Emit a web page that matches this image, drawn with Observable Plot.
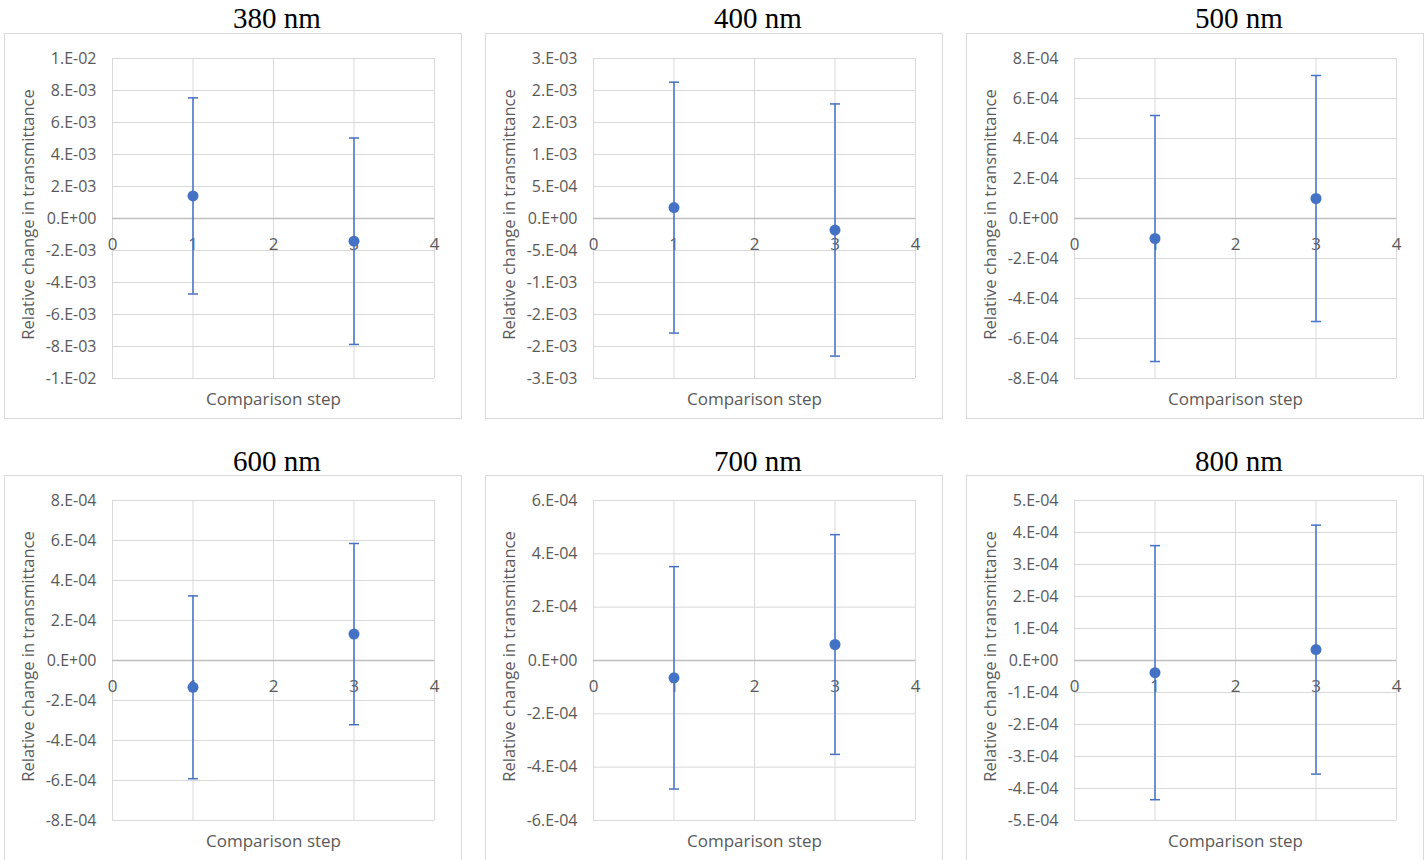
<!DOCTYPE html>
<html>
<head>
<meta charset="utf-8">
<script src="https://cdn.jsdelivr.net/npm/d3@7"></script>
<script src="https://cdn.jsdelivr.net/npm/@observablehq/plot@0.6"></script>
<style>
  html, body { margin: 0; padding: 0; background: #ffffff; }
  #sheet { position: relative; width: 1426px; height: 860px; overflow: hidden; }
  .title {
    position: absolute; width: 200px; text-align: center;
    font-family: "Liberation Serif", "Times New Roman", serif;
    font-size: 29px; line-height: 29px; color: #000000; white-space: nowrap;
  }
  .box {
    position: absolute; border: 1px solid #d9d9d9; background: #ffffff;
  }
  .box svg { display: block; }
</style>
</head>
<body>
<div id="sheet"></div>
<script>
// Wavelength of each panel
const panelTitles = ["380 nm", "400 nm", "500 nm", "600 nm", "700 nm", "800 nm"];

// Comparison steps on the x axis and its tick marks
const comparisonSteps = [1, 3];
const xTicks = [0, 1, 2, 3, 4];

// Mean relative change in transmittance at steps 1 and 3, per wavelength
const meanChange380 = [1.41e-3, -1.42e-3];
const meanChange400 = [1.7e-4, -1.8e-4];
const meanChange500 = [-1.0e-4, 1.0e-4];
const meanChange600 = [-1.34e-4, 1.32e-4];
const meanChange700 = [-6.5e-5, 6.0e-5];
const meanChange800 = [-3.8e-5, 3.4e-5];

// Error-bar half-widths (symmetric) at steps 1 and 3, per wavelength
const errorBar380 = [6.13e-3, 6.45e-3];
const errorBar400 = [1.96e-3, 1.97e-3];
const errorBar500 = [6.15e-4, 6.15e-4];
const errorBar600 = [4.57e-4, 4.53e-4];
const errorBar700 = [4.17e-4, 4.12e-4];
const errorBar800 = [3.97e-4, 3.89e-4];

// Y tick values and their printed labels, per wavelength
const yTicks380 = [1e-2, 8e-3, 6e-3, 4e-3, 2e-3, 0, -2e-3, -4e-3, -6e-3, -8e-3, -1e-2];
const yLabels380 = ["1.E-02", "8.E-03", "6.E-03", "4.E-03", "2.E-03", "0.E+00", "-2.E-03", "-4.E-03", "-6.E-03", "-8.E-03", "-1.E-02"];
const yTicks400 = [2.5e-3, 2e-3, 1.5e-3, 1e-3, 5e-4, 0, -5e-4, -1e-3, -1.5e-3, -2e-3, -2.5e-3];
const yLabels400 = ["3.E-03", "2.E-03", "2.E-03", "1.E-03", "5.E-04", "0.E+00", "-5.E-04", "-1.E-03", "-2.E-03", "-2.E-03", "-3.E-03"];
const yTicks500 = [8e-4, 6e-4, 4e-4, 2e-4, 0, -2e-4, -4e-4, -6e-4, -8e-4];
const yLabels500 = ["8.E-04", "6.E-04", "4.E-04", "2.E-04", "0.E+00", "-2.E-04", "-4.E-04", "-6.E-04", "-8.E-04"];
const yTicks600 = [8e-4, 6e-4, 4e-4, 2e-4, 0, -2e-4, -4e-4, -6e-4, -8e-4];
const yLabels600 = ["8.E-04", "6.E-04", "4.E-04", "2.E-04", "0.E+00", "-2.E-04", "-4.E-04", "-6.E-04", "-8.E-04"];
const yTicks700 = [6e-4, 4e-4, 2e-4, 0, -2e-4, -4e-4, -6e-4];
const yLabels700 = ["6.E-04", "4.E-04", "2.E-04", "0.E+00", "-2.E-04", "-4.E-04", "-6.E-04"];
const yTicks800 = [5e-4, 4e-4, 3e-4, 2e-4, 1e-4, 0, -1e-4, -2e-4, -3e-4, -4e-4, -5e-4];
const yLabels800 = ["5.E-04", "4.E-04", "3.E-04", "2.E-04", "1.E-04", "0.E+00", "-1.E-04", "-2.E-04", "-3.E-04", "-4.E-04", "-5.E-04"];

const xLabel = "Comparison step";
const yLabel = "Relative change in transmittance";

const meanChange = [meanChange380, meanChange400, meanChange500, meanChange600, meanChange700, meanChange800];
const errorBars = [errorBar380, errorBar400, errorBar500, errorBar600, errorBar700, errorBar800];
const yTicks = [yTicks380, yTicks400, yTicks500, yTicks600, yTicks700, yTicks800];
const yLabels = [yLabels380, yLabels400, yLabels500, yLabels600, yLabels700, yLabels800];

const BLUE = "#4472c4";
const GRID = "#d9d9d9";
const AXIS = "#bfbfbf";
const INK = "#595959";

// Flat error-bar cap drawn as a custom dot symbol
const capSymbol = {
  draw(context, size) {
    const w = Math.sqrt(size / Math.PI);
    context.moveTo(-w, 0);
    context.lineTo(w, 0);
  }
};

const colLeft = [5, 486, 967];
const rowTop = [34, 476];
const titleBaseline = [28, 471];
const W = 456, H = 384;
const mL = 107, mR = 27, mT = 24, mB = 40;

const sheet = document.getElementById("sheet");

panelTitles.forEach((title, i) => {
  const col = i % 3, row = Math.floor(i / 3);
  const rows = comparisonSteps.map((s, j) => ({step: s, mean: meanChange[i][j], err: errorBars[i][j]}));
  const caps = rows.flatMap(d => [{step: d.step, y: d.mean + d.err}, {step: d.step, y: d.mean - d.err}]);
  const ticks = yTicks[i];
  const labels = yLabels[i];
  const yMax = d3.max(ticks);
  const yMin = d3.min(ticks);

  const chart = Plot.plot({
    width: W,
    height: H,
    marginLeft: mL,
    marginRight: mR,
    marginTop: mT,
    marginBottom: mB,
    style: {fontFamily: "'Open Sans', 'Noto Sans', sans-serif", background: "#ffffff", overflow: "visible"},
    x: {domain: [0, 4], axis: null},
    y: {domain: [yMin, yMax], axis: null},
    marks: [
      // gridlines
      Plot.ruleX(xTicks, {x: d => d, stroke: GRID, strokeWidth: 1}),
      Plot.ruleY(ticks, {y: d => d, stroke: GRID, strokeWidth: 1}),
      // horizontal axis line at zero
      Plot.ruleY([0], {y: d => d, stroke: AXIS, strokeWidth: 1.3}),
      // y tick labels
      Plot.text(ticks, {
        y: d => d, text: (d, k) => labels[k], frameAnchor: "left",
        textAnchor: "end", lineAnchor: "middle", dx: -16, fontSize: 16, fill: INK
      }),
      // x tick labels hanging under the zero line
      Plot.text(xTicks, {
        x: d => d, y: () => 0, text: d => String(d), dy: 26, fontSize: 17, fill: INK
      }),
      // axis titles
      Plot.text([yLabel], {
        text: d => d, frameAnchor: "left", textAnchor: "middle", lineAnchor: "middle",
        rotate: -90, dx: -84, dy: -4, fontSize: 16.5, fill: INK, letterSpacing: "0.3px"
      }),
      Plot.text([xLabel], {
        text: d => d, frameAnchor: "bottom", textAnchor: "middle", lineAnchor: "middle",
        dy: 21, fontSize: 17, fill: INK, letterSpacing: "0.4px"
      }),
      // error bars
      Plot.ruleX(rows, {x: "step", y1: d => d.mean - d.err, y2: d => d.mean + d.err, stroke: BLUE, strokeWidth: 1.5}),
      Plot.dot(caps, {x: "step", y: "y", symbol: capSymbol, r: 5, fill: "none", stroke: BLUE, strokeWidth: 1.5}),
      // mean values
      Plot.dot(rows, {x: "step", y: "mean", r: 5.5, fill: BLUE, stroke: "none"})
    ]
  });

  const box = document.createElement("div");
  box.className = "box";
  box.style.left = (colLeft[col] - 1) + "px";
  box.style.top = (rowTop[row] - 1) + "px";
  box.style.width = W + "px";
  box.style.height = H + "px";
  box.appendChild(chart);
  sheet.appendChild(box);

  const t = document.createElement("div");
  t.className = "title";
  t.textContent = title;
  const plotCenter = colLeft[col] + mL + (W - mL - mR) / 2 + 4;
  t.style.left = (plotCenter - 100) + "px";
  t.style.top = (titleBaseline[row] - 24) + "px";
  sheet.appendChild(t);
});
</script>
</body>
</html>
